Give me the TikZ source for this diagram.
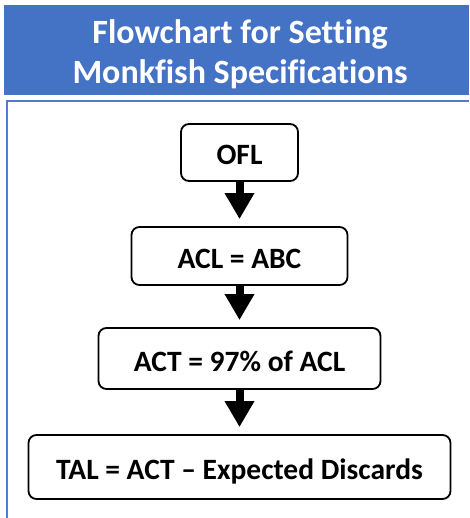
\documentclass[tikz,border=0pt]{standalone}
\usepackage{fontspec}
\setmainfont{Carlito}[Ligatures=NoCommon]
\usetikzlibrary{arrows.meta,positioning}

\definecolor{headblue}{RGB}{68,114,196}
\definecolor{frameblue}{RGB}{80,124,208}

\begin{document}
\begin{tikzpicture}[%
x=1pt, y=-1pt,
on grid,
stepbox/.style={draw=black, line width=1.8pt, rounded corners=8pt, fill=white,
  font=\fontsize{29.5}{34}\selectfont\bfseries, inner sep=0pt,
  text height=25pt, text depth=0pt},
flowarrow/.style={line width=8pt, -{Triangle[width=28pt,length=26pt]}, shorten >=7pt}
]
\useasboundingbox (0,0) rectangle (469,518);

% header
\fill[headblue] (4,5) rectangle (469,95);
\node[text=white, font=\fontsize{34}{40}\selectfont\bfseries, align=center]
  (title) at (240,54.5) {Flowchart for Setting\\Monkfish Specifications};

% frame
\draw[frameblue, line width=2pt] (7,518) -- (7,101) -- (469,101);

% boxes
\node[stepbox, minimum width=117pt, minimum height=57pt] (ofl) at (239.5,152.5) {OFL};
\node[stepbox, minimum width=216pt, minimum height=58pt] (acl) [below=103.5pt of ofl] {ACL = ABC};
\node[stepbox, minimum width=282pt, minimum height=61pt] (act) [below=102.5pt of acl] {ACT = 97\% of ACL};
\node[stepbox, minimum width=422pt, minimum height=64pt] (tal) [below=108.5pt of act] {TAL = ACT – Expected Discards};

% arrows
\draw[flowarrow] (ofl) -- (acl);
\draw[flowarrow] (acl) -- (act);
\draw[flowarrow] (act) -- (tal);
\end{tikzpicture}
\end{document}
